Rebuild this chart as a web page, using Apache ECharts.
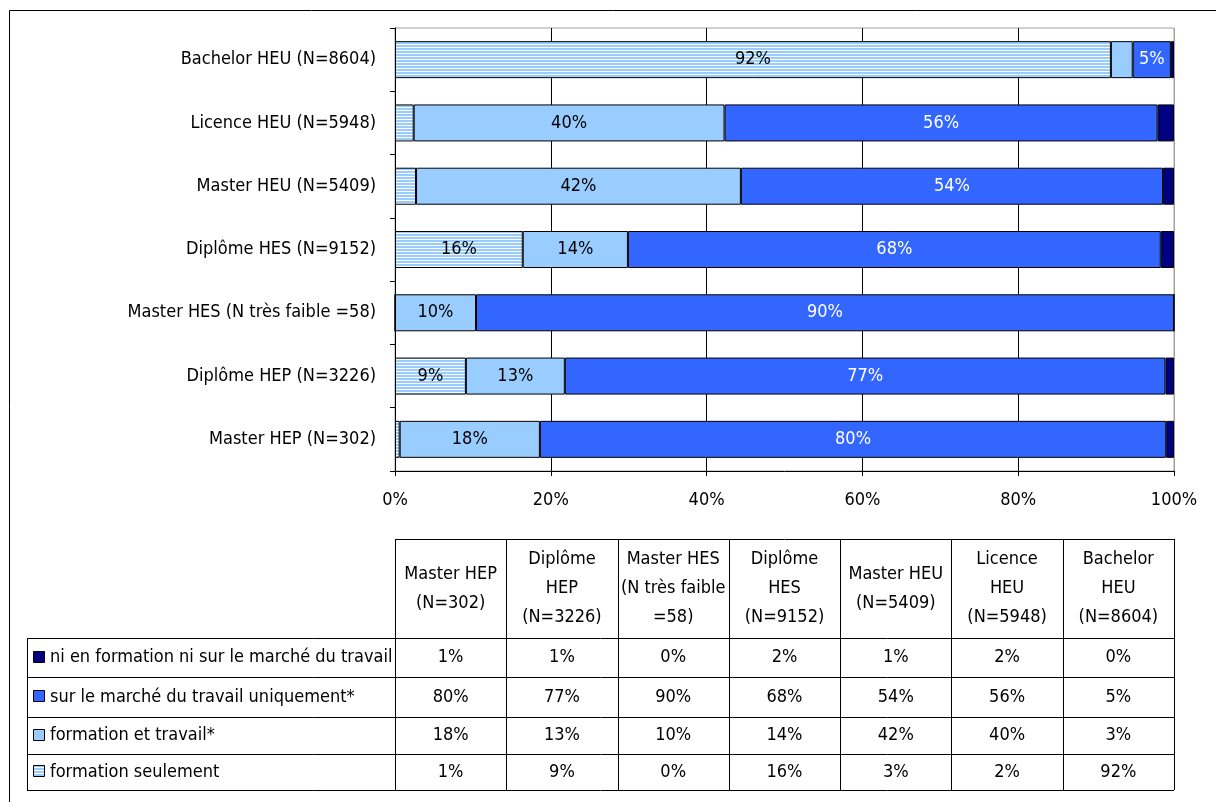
<!DOCTYPE html>
<html>
<head>
<meta charset="utf-8">
<script src="https://cdn.jsdelivr.net/npm/echarts@6/dist/echarts.min.js"></script>
<style>
  html, body { margin: 0; padding: 0; background: #fff; }
  #chart { width: 1216px; height: 802px; }
</style>
</head>
<body>
<div id="chart"></div>
<script>
// categories, top to bottom as drawn on the bars
var categories = [
  'Bachelor HEU (N=8604)',
  'Licence HEU (N=5948)',
  'Master HEU (N=5409)',
  'Diplôme HES (N=9152)',
  'Master HES (N très faible =58)',
  'Diplôme HEP (N=3226)',
  'Master HEP (N=302)'
]
// shares in %, same order as categories
var formationSeule = [91.9, 2.4, 2.7, 16.4, 0, 9.1, 0.6]
var formationTravail = [2.8, 39.9, 41.7, 13.5, 10.4, 12.7, 18.0]
var marcheSeul = [4.9, 55.6, 54.2, 68.4, 89.6, 77.1, 80.4]
var niNi = [0.4, 2.1, 1.4, 1.7, 0, 1.1, 1.0]

var seriesNames = [
  'formation seulement',
  'formation et travail*',
  'sur le marché du travail uniquement*',
  'ni en formation ni sur le marché du travail'
]
// table header, left to right (reverse of the bar order)
var tableHeaders = [
  'Master HEP\n(N=302)',
  'Diplôme\nHEP\n(N=3226)',
  'Master HES\n(N très faible\n=58)',
  'Diplôme\nHES\n(N=9152)',
  'Master HEU\n(N=5409)',
  'Licence\nHEU\n(N=5948)',
  'Bachelor\nHEU\n(N=8604)'
]
var xTicks = [0, 20, 40, 60, 80, 100]

var FONT = "'Liberation Sans Narrow', 'Arial Narrow', 'DejaVu Sans Condensed', sans-serif"
var FS = 18

function stripes() {
  var c = document.createElement('canvas')
  c.width = 4
  c.height = 3
  var g = c.getContext('2d')
  g.fillStyle = '#ffffff'
  g.fillRect(0, 0, 4, 3)
  g.fillStyle = '#99CCFF'
  g.fillRect(0, 0, 4, 2)
  return c
}
var stripeFill = { image: stripes(), repeat: 'repeat' }
var colors = [stripeFill, '#99CCFF', '#3366FF', '#000080']
var labelColors = ['#000', '#000', '#fff', '#fff']
var allData = [formationSeule, formationTravail, marcheSeul, niNi]

var grid = { left: 395, top: 28, width: 779, height: 443 }

var chart = echarts.init(document.getElementById('chart'))

function makeSeries(i) {
  return {
    name: seriesNames[i],
    type: 'bar',
    stack: 'total',
    barWidth: 37,
    data: allData[i],
    itemStyle: { color: colors[i], borderColor: '#000', borderWidth: 1 },
    label: {
      show: true,
      position: 'inside',
      fontFamily: FONT,
      fontSize: FS,
      color: labelColors[i],
      formatter: function (p) {
        var r = Math.round(p.value)
        return r >= 5 ? r + '%' : ''
      }
    },
    animation: false
  }
}

// table drawn with graphic elements
var tLeft = 27
var tRight = grid.left + grid.width
var colW = (tRight - grid.left) / 7
var tTop = 539
var headBottom = 638
var rowEdges = [638, 677, 717, 754, 790]
var lineStyle = { stroke: '#000', lineWidth: 1 }
var graphics = []

function hline(x1, x2, y) {
  graphics.push({ type: 'line', shape: { x1: x1, y1: y + 0.5, x2: x2, y2: y + 0.5 }, style: lineStyle, silent: true })
}
function vline(x, y1, y2) {
  graphics.push({ type: 'line', shape: { x1: x + 0.5, y1: y1, x2: x + 0.5, y2: y2 }, style: lineStyle, silent: true })
}

// outer frame
graphics.push({ type: 'rect', shape: { x: 9.5, y: 10.5, width: 1300, height: 900 }, style: { fill: 'none', stroke: '#000', lineWidth: 1 }, silent: true })

hline(grid.left, tRight, tTop)
rowEdges.forEach(function (y) { hline(tLeft, tRight, y) })
vline(tLeft, headBottom, rowEdges[4])
for (var c = 0; c <= 7; c++) {
  vline(Math.round(grid.left + c * colW), tTop, rowEdges[4])
}
tableHeaders.forEach(function (h, c) {
  graphics.push({
    type: 'text', silent: true,
    x: grid.left + (c + 0.5) * colW, y: (tTop + headBottom) / 2,
    style: { text: h, fontFamily: FONT, fontSize: FS, lineHeight: 29, fill: '#000', align: 'center', verticalAlign: 'middle' }
  })
})
// rows in legend order: ni, marché, formation et travail, formation seulement
var rowOrder = [3, 2, 1, 0]
rowOrder.forEach(function (s, r) {
  var yMid = (rowEdges[r] + rowEdges[r + 1]) / 2
  graphics.push({
    type: 'rect', silent: true,
    shape: { x: 33.5, y: Math.round(yMid) - 6.5, width: 11, height: 11 },
    style: { fill: colors[s], stroke: '#000', lineWidth: 1 }
  })
  graphics.push({
    type: 'text', silent: true, x: 50, y: yMid,
    style: { text: seriesNames[s], fontFamily: FONT, fontSize: FS, fill: '#000', align: 'left', verticalAlign: 'middle' }
  })
  for (var c = 0; c < 7; c++) {
    var v = allData[s][6 - c]
    graphics.push({
      type: 'text', silent: true, x: grid.left + (c + 0.5) * colW, y: yMid,
      style: { text: Math.round(v) + '%', fontFamily: FONT, fontSize: FS, fill: '#000', align: 'center', verticalAlign: 'middle' }
    })
  }
})

chart.setOption({
  animation: false,
  textStyle: { fontFamily: FONT },
  grid: {
    left: grid.left, top: grid.top, width: grid.width, height: grid.height,
    containLabel: false, show: true, borderColor: '#a0a0a0', borderWidth: 1
  },
  xAxis: {
    type: 'value',
    min: xTicks[0],
    max: xTicks[xTicks.length - 1],
    interval: 20,
    axisLine: { show: true, lineStyle: { color: '#000' } },
    axisTick: { show: true, length: 5, lineStyle: { color: '#000' } },
    axisLabel: { formatter: '{value}%', color: '#000', fontSize: FS, fontFamily: FONT, margin: 20 },
    splitLine: { show: true, lineStyle: { color: ['#000', '#000', '#000', '#000', '#000', '#a0a0a0'], width: 1 } }
  },
  yAxis: {
    type: 'category',
    data: categories,
    inverse: true,
    axisLine: { show: true, lineStyle: { color: '#000' } },
    axisTick: { show: true, length: 5, lineStyle: { color: '#000' } },
    axisLabel: { color: '#000', fontSize: FS, fontFamily: FONT, margin: 19 }
  },
  series: [0, 1, 2, 3].map(makeSeries),
  graphic: graphics
})
</script>
</body>
</html>
